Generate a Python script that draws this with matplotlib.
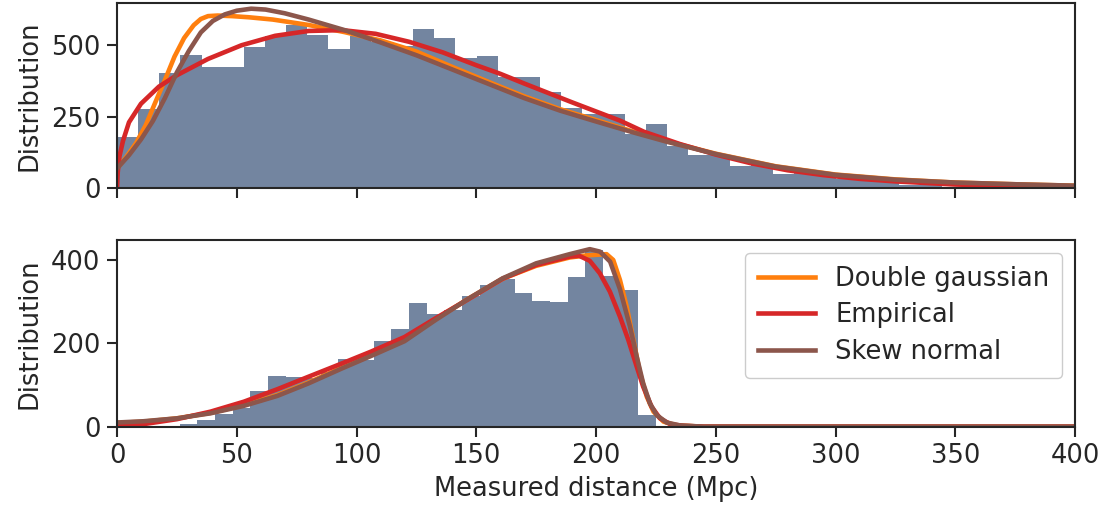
import numpy as np
import matplotlib
matplotlib.use("Agg")
import matplotlib.pyplot as plt

# histogram of measured distances (top: full sample, bottom: selected)
top_start = 0.0
top_width = 8.83
top_counts = [180, 275, 401, 467, 425, 425, 495, 534, 572, 537,
              488, 533, 510, 499, 558, 527, 457, 464, 390, 390,
              336, 280, 258, 258, 190, 225, 148, 115, 115, 76,
              82, 50, 56, 45, 32, 31, 24, 10, 14, 5,
              4, 3, 2, 2, 1, 1]

bot_start = 4.1
bot_width = 7.363
bot_counts = [2, 0, 0, 6, 16, 30, 45, 86, 122, 119,
              118, 132, 162, 160, 206, 234, 297, 270, 279, 314,
              340, 354, 321, 302, 298, 359, 424, 362, 328, 29]

# fitted curves
top_dg_x = [0, 4, 8, 12, 16, 20, 24, 28, 32, 35, 38, 42, 48, 55, 65, 80, 95,
            110, 125, 140, 155, 170, 185, 200, 215, 230, 250, 275, 300, 325,
            350, 375, 400]
top_dg_y = [68, 110, 158, 220, 300, 378, 460, 525, 570, 592, 602, 604, 602,
            598, 590, 571, 546, 517, 478, 424, 372, 321, 276, 238, 199, 163,
            120, 76, 47, 30, 19, 13, 8]

top_emp_x = [0, 0.3, 1, 2.5, 5, 10, 17.5, 25, 38, 52, 66, 80, 94, 108, 122,
             136, 150, 160, 170, 180, 190, 200, 210, 220, 235, 250, 265, 280,
             295, 310, 325, 350, 375, 400]
top_emp_y = [0, 55, 110, 165, 230, 295, 355, 395, 452, 500, 533, 550, 553,
             540, 512, 475, 430, 400, 366, 333, 300, 268, 236, 197, 154, 117,
             86, 62, 45, 32, 23, 12, 7, 4]

top_sn_x = [0, 5, 10, 15, 20, 25, 30, 35, 40, 45, 50, 56, 62, 70, 80, 95,
            110, 125, 140, 155, 170, 185, 200, 215, 230, 250, 275, 300, 325,
            350, 375, 400]
top_sn_y = [68, 115, 170, 235, 315, 405, 480, 545, 585, 608, 621, 628, 625,
            612, 590, 553, 510, 465, 415, 365, 315, 271, 233, 196, 161, 119,
            75, 46, 29, 19, 13, 8]

bot_dg_x = [0, 11, 25, 39, 53, 67, 80, 94, 107, 120, 133, 147, 161, 175, 189,
            196, 204.4, 207.2, 210, 212.8, 215.6, 218.4, 221.2, 224, 228.2,
            233.7, 245, 400]
bot_dg_y = [9, 12, 20, 33, 52, 76, 106, 142, 174, 208, 258, 308, 355, 386,
            406, 411, 414, 400, 352, 288, 208, 128, 72, 36, 12, 3, 0, 0]

bot_emp_x = [0, 11, 25, 39, 53, 67, 80, 94, 106, 120, 133, 147, 161, 175, 189,
             193, 197.4, 201.6, 205.8, 210, 213.5, 217, 219.7, 223.2, 226.7,
             231, 236.5, 245, 400]
bot_emp_y = [4, 6, 18, 36, 60, 90, 120, 152, 180, 215, 260, 307, 355, 388,
             408, 410, 398, 368, 324, 264, 208, 144, 96, 48, 20, 6, 2, 0, 0]

bot_sn_x = [0, 11, 25, 39, 53, 67, 80, 94, 107, 120, 133, 147, 161, 175, 189,
            197.4, 201.7, 205.9, 210, 214.2, 217, 219.7, 222.5, 225.3, 229.5,
            235, 245, 400]
bot_sn_y = [10, 13, 20, 32, 50, 74, 104, 140, 172, 205, 256, 308, 356, 392,
            414, 426, 420, 396, 330, 240, 168, 104, 56, 28, 10, 3, 0, 0]

labels = ["Double gaussian", "Empirical", "Skew normal"]
colors = ["#ff7f0e", "#d62728", "#8c564b"]
hist_color = "#7385a0"
ink = "#262626"
fs = 18.5

fig = plt.figure(figsize=(11.07, 5.15), dpi=100)
ax1 = fig.add_axes([0.1057, 0.635, 0.8654, 0.3592])
ax2 = fig.add_axes([0.1057, 0.1715, 0.8654, 0.3625], sharex=ax1)


def draw_hist(ax, start, width, counts):
    edges = start + width * np.arange(len(counts) + 1)
    ax.bar(edges[:-1], counts, width=width, align="edge", color=hist_color,
           linewidth=0)


draw_hist(ax1, top_start, top_width, top_counts)
draw_hist(ax2, bot_start, bot_width, bot_counts)

top_curves = [(top_dg_x, top_dg_y), (top_emp_x, top_emp_y), (top_sn_x, top_sn_y)]
bot_curves = [(bot_dg_x, bot_dg_y), (bot_emp_x, bot_emp_y), (bot_sn_x, bot_sn_y)]
for (x, y), c, lab in zip(top_curves, colors, labels):
    ax1.plot(x, y, color=c, lw=3.3, label=lab)
for (x, y), c, lab in zip(bot_curves, colors, labels):
    ax2.plot(x, y, color=c, lw=3.3, label=lab)

ax1.set_xlim(0, 400)
ax1.set_ylim(0, 648)
ax2.set_ylim(0, 448)
ax1.set_yticks([0, 250, 500])
ax2.set_yticks([0, 200, 400])
ax2.set_xticks(np.arange(0, 401, 50))
ax1.tick_params(labelbottom=False)

for ax in (ax1, ax2):
    ax.tick_params(direction="out", length=7, width=1.5, colors=ink,
                   labelsize=fs, pad=5)
    for s in ax.spines.values():
        s.set_color(ink)
        s.set_linewidth(1.5)
    ax.set_ylabel("Distribution", fontsize=fs, color=ink, labelpad=6)

ax2.set_xlabel("Measured distance (Mpc)", fontsize=fs, color=ink, labelpad=5)

leg = ax2.legend(loc="upper right", fontsize=fs, handlelength=2.2,
                 handletextpad=0.8, labelspacing=0.42, borderpad=0.5,
                 fancybox=True, framealpha=1)
leg.get_frame().set_edgecolor("#cccccc")
for t in leg.get_texts():
    t.set_color(ink)

fig.savefig("out.png", dpi=100)
